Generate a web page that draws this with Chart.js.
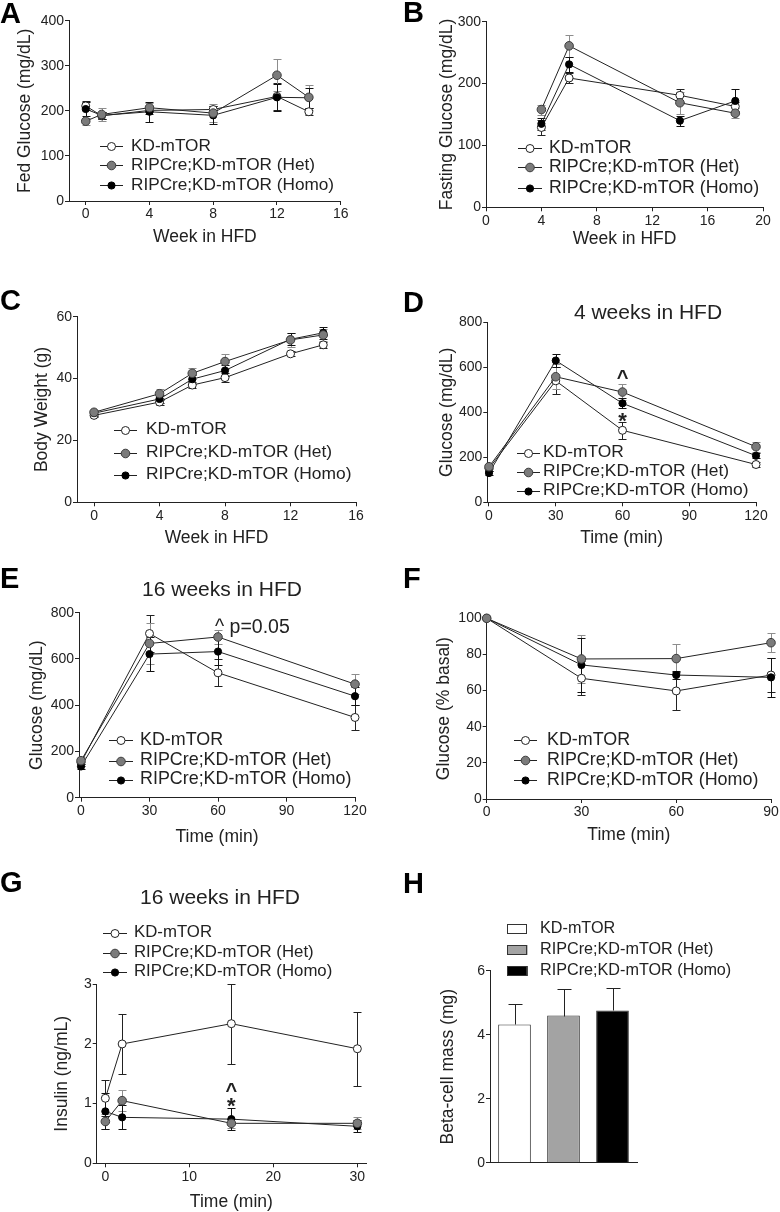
<!DOCTYPE html>
<html>
<head>
<meta charset="utf-8">
<script src="https://cdn.jsdelivr.net/npm/chart.js@4.4.1/dist/chart.umd.min.js"></script>
<style>
  html, body { margin: 0; padding: 0; background: #fff; overflow: hidden; }
  body { width: 780px; height: 1212px; position: relative; }
  canvas { position: absolute; }
</style>
</head>
<body>
<script>
// ---- data ----
const seriesNames = ['KD-mTOR', 'RIPCre;KD-mTOR (Het)', 'RIPCre;KD-mTOR (Homo)'];

// A: fed glucose
const weeksA = [0, 1, 4, 8, 12, 14];
const fedKD = [211, 189, 201, 203, 232, 198];
const fedHet = [177, 192, 207, 195, 279, 230];
const fedHomo = [204, 190, 198, 190, 230, 229];
const fedKDErr = [10, 8, 8, 8, 30, 8];
const fedHetErr = [8, 15, 10, 20, 35, 28];
const fedHomoErr = [15, 8, 22, 20, 30, 22];

// B: fasting glucose
const weeksB = [4, 6, 14, 18];
const fastKD = [129, 209, 181, 163];
const fastHet = [158, 261, 169, 152];
const fastHomo = [135, 231, 140, 172];
const fastKDErr = [12, 8, 10, 8];
const fastHetErr = [8, 18, 18, 8];
const fastHomoErr = [10, 12, 8, 20];

// C: body weight
const weeksC = [0, 4, 6, 8, 12, 14];
const bwKD = [28.1, 32.4, 37.9, 40.3, 48.0, 50.9];
const bwHet = [29.1, 35.1, 41.7, 45.5, 52.5, 54.1];
const bwHomo = [28.8, 33.4, 39.8, 42.6, 52.7, 54.8];
const bwKDErr = [0.6, 0.8, 1.0, 1.5, 0.8, 1.0];
const bwHetErr = [0.8, 1.5, 1.8, 2.3, 2.3, 2.0];
const bwHomoErr = [0.8, 1.2, 1.5, 1.8, 2.0, 2.0];

// D: GTT 4 weeks
const timeGTT = [0, 30, 60, 120];
const gtt4KD = [150, 540, 320, 168];
const gtt4Het = [158, 558, 490, 247];
const gtt4Homo = [130, 630, 440, 207];
const gtt4KDErr = [10, 60, 38, 10];
const gtt4HetErr = [10, 55, 35, 22];
const gtt4HomoErr = [8, 30, 22, 12];
const notesD = [{ x: 60, y: 524, text: '^', bold: true, size: 20 }, { x: 60, y: 332, text: '*', bold: true, size: 22 }];

// E: GTT 16 weeks
const gtt16KD = [152, 710, 540, 347];
const gtt16Het = [160, 667, 695, 491];
const gtt16Homo = [135, 621, 632, 439];
const gtt16KDErr = [15, 78, 58, 55];
const gtt16HetErr = [15, 90, 30, 42];
const gtt16HomoErr = [10, 72, 60, 40];
const notesE = [{ x: 58.7, y: 711, text: '^ p=0.05', align: 'left', size: 19.5 }];

// F: ITT
const timeITT = [0, 30, 60, 90];
const ittKD = [100, 66.8, 59.8, 68.6];
const ittHet = [100, 77.5, 77.7, 86.5];
const ittHomo = [100, 74.2, 68.6, 67.3];
const ittKDErr = [0, 9.3, 10.5, 9.3];
const ittHetErr = [0, 13.3, 8, 5.2];
const ittHomoErr = [0, 15, 2, 10.7];

// G: insulin
const timeIns = [0, 2, 15, 30];
const insKD = [1.09, 2.0, 2.34, 1.92];
const insHet = [0.70, 1.05, 0.67, 0.67];
const insHomo = [0.87, 0.77, 0.74, 0.62];
const insKDErr = [0.3, 0.5, 0.67, 0.62];
const insHetErr = [0.12, 0.18, 0.08, 0.1];
const insHomoErr = [0.3, 0.2, 0.18, 0.1];
const notesG = [{ x: 15, y: 1.11, text: '^', bold: true, size: 20 }, { x: 15, y: 0.843, text: '*', bold: true, size: 22 }];

// H: beta-cell mass
const betaMass = [4.32, 4.6, 4.76];
const betaMassErr = [0.65, 0.82, 0.71];

// tick labels
const ticksWeek16 = [0, 4, 8, 12, 16];
const ticksWeek20 = [0, 4, 8, 12, 16, 20];
const ticksMin120 = [0, 30, 60, 90, 120];
const ticksMin90 = [0, 30, 60, 90];
const ticksMin30 = [0, 10, 20, 30];
const ticksFed = [0, 100, 200, 300, 400];
const ticksFast = [0, 100, 200, 300];
const ticksBW = [0, 20, 40, 60];
const ticksGTT = [0, 200, 400, 600, 800];
const ticksITT = [0, 20, 40, 60, 80, 100];
const ticksIns = [0, 1, 2, 3];
const ticksBeta = [0, 2, 4, 6];

// ---- styles ----
const FONT = '"Liberation Sans", Arial, Helvetica, sans-serif';
const INK = '#222';
const marker = [
  { fill: '#ffffff', line: '#222', r: 4, err: '#222' },
  { fill: '#7b7b7b', line: '#3c3c3c', r: 4.3, err: '#8d8d8d' },
  { fill: '#000000', line: '#000', r: 3.6, err: '#111' }
];
const barFill = ['#ffffff', '#a3a3a3', '#000000'];

const errorBars = {
  id: 'errorBars',
  beforeDatasetsDraw(chart) { if (chart.config.type === 'line') drawErrors(chart, false); },
  afterDatasetsDraw(chart) { if (chart.config.type === 'bar') drawErrors(chart, true); }
};

function drawErrors(chart, upOnly) {
  const ctx = chart.ctx, ys = chart.scales.y;
  chart.data.datasets.forEach((ds, i) => {
    if (!ds.errors) return;
    const meta = chart.getDatasetMeta(i);
    ctx.save();
    ctx.strokeStyle = ds.errorColor;
    ctx.lineWidth = 1;
    meta.data.forEach((el, j) => {
      const e = ds.errors[j];
      if (!e) return;
      const v = typeof ds.data[j] === 'object' ? ds.data[j].y : ds.data[j];
      const top = Math.round(ys.getPixelForValue(v + e)) + 0.5;
      const bot = Math.round(ys.getPixelForValue(upOnly ? v : v - e)) + 0.5;
      const x = Math.round(el.x) + 0.5, cw = ds.capWidth;
      ctx.beginPath();
      ctx.moveTo(x, top); ctx.lineTo(x, bot);
      ctx.moveTo(x - cw, top); ctx.lineTo(x + cw, top);
      if (!upOnly) { ctx.moveTo(x - cw, bot); ctx.lineTo(x + cw, bot); }
      ctx.stroke();
    });
    ctx.restore();
  });
}

function makeChart(p) {
  const [bx, by, bw, bh] = p.box;
  const [l, t, r, b] = p.area;
  const cv = document.createElement('canvas');
  cv.width = bw; cv.height = bh;
  cv.style.left = bx + 'px'; cv.style.top = by + 'px';
  cv.style.width = bw + 'px'; cv.style.height = bh + 'px';
  document.body.appendChild(cv);

  const isBar = !!p.bars;
  const tickFont = { family: FONT, size: 14 };
  const titleSize = 17.5, lh = titleSize * 1.2;
  const titleFont = { family: FONT, size: titleSize };
  const grid = { display: true, drawOnChartArea: false, drawTicks: true, tickLength: 4, color: INK, lineWidth: 1 };
  const border = { display: true, color: INK, width: 1 };

  let datasets;
  if (isBar) {
    datasets = [{
      data: p.bars, errors: p.barErr, errorColor: INK, capWidth: 7,
      backgroundColor: barFill, borderColor: '#333', borderWidth: 1,
      barPercentage: 0.667, categoryPercentage: 1
    }];
  } else {
    datasets = p.series.map((s, i) => ({
      label: seriesNames[i],
      data: s.map((v, j) => ({ x: p.xs[j], y: v })),
      errors: p.errs[i], errorColor: marker[i].err, capWidth: 4,
      borderColor: INK, borderWidth: 1, tension: 0, fill: false,
      pointRadius: marker[i].r, pointBackgroundColor: marker[i].fill,
      pointBorderColor: marker[i].line, pointBorderWidth: 1,
      order: [3, 1, 2][i], clip: false
    }));
  }

  const xScale = isBar ? {
    type: 'category', offset: true,
    grid: { display: false }, border,
    ticks: { display: false },
    afterFit: s => { s.height = by + bh - b; }
  } : {
    type: 'linear', min: p.xRange[0], max: p.xRange[1], grid, border,
    ticks: { font: tickFont, color: INK, padding: 1, maxRotation: 0, autoSkip: false },
    afterBuildTicks: s => { s.ticks = p.xTicks.map(v => ({ value: v })); },
    afterFit: s => { s.height = by + bh - b; },
    title: { display: !!p.xTitle, text: p.xTitle, font: titleFont, color: INK,
      padding: { top: 0, bottom: by + bh - p.xTitleY - lh / 2 } }
  };

  const deco = {
    id: 'deco',
    afterDraw(chart) {
      const ctx = chart.ctx;
      ctx.save();
      ctx.fillStyle = '#000';
      ctx.textAlign = 'left'; ctx.textBaseline = 'alphabetic';
      ctx.font = 'bold 29px ' + FONT;
      ctx.fillText(p.letter, p.letterAt[0] - bx, p.letterAt[1] - by);
      if (p.title) {
        ctx.font = '21px ' + FONT;
        ctx.textAlign = 'center'; ctx.textBaseline = 'middle';
        ctx.fillStyle = INK;
        ctx.fillText(p.title, p.titleAt[0] - bx, p.titleAt[1] - by);
      }
      const lg = p.legend;
      seriesNames.forEach((name, i) => {
        const yy = lg.ys[i] - by;
        if (isBar) {
          ctx.fillStyle = barFill[i];
          ctx.fillRect(lg.x0 - bx, yy - 5, lg.x1 - lg.x0, 10);
          ctx.strokeStyle = '#333'; ctx.lineWidth = 1;
          ctx.strokeRect(Math.round(lg.x0 - bx) + 0.5, Math.round(yy - 5) + 0.5, Math.round(lg.x1 - lg.x0) - 1, 9);
        } else {
          ctx.strokeStyle = INK; ctx.lineWidth = 1;
          ctx.beginPath();
          ctx.moveTo(lg.x0 - bx, Math.round(yy) + 0.5); ctx.lineTo(lg.x1 - bx, Math.round(yy) + 0.5);
          ctx.stroke();
          ctx.beginPath();
          ctx.arc((lg.x0 + lg.x1) / 2 - bx, Math.round(yy) + 0.5, marker[i].r, 0, Math.PI * 2);
          ctx.fillStyle = marker[i].fill; ctx.fill();
          ctx.strokeStyle = marker[i].line; ctx.stroke();
        }
        ctx.font = lg.size + 'px ' + FONT;
        ctx.textAlign = 'left'; ctx.textBaseline = 'middle';
        ctx.fillStyle = INK;
        ctx.fillText(name, lg.tx - bx, yy);
      });
      (p.notes || []).forEach(n => {
        ctx.font = (n.bold ? 'bold ' : '') + n.size + 'px ' + FONT;
        ctx.textAlign = n.align || 'center'; ctx.textBaseline = 'alphabetic';
        ctx.fillStyle = INK;
        ctx.fillText(n.text, chart.scales.x.getPixelForValue(n.x), chart.scales.y.getPixelForValue(n.y));
      });
      ctx.restore();
    }
  };

  new Chart(cv, {
    type: isBar ? 'bar' : 'line',
    data: { labels: isBar ? seriesNames : undefined, datasets },
    options: {
      responsive: false, animation: false, devicePixelRatio: 1,
      layout: { padding: { left: 0, top: t - by, right: bx + bw - r, bottom: 0 } },
      plugins: { legend: { display: false }, tooltip: { enabled: false } },
      scales: {
        x: xScale,
        y: {
          type: 'linear', min: p.yRange[0], max: p.yRange[1], grid, border,
          ticks: { font: tickFont, color: INK, padding: 1 },
          afterBuildTicks: s => { s.ticks = p.yTicks.map(v => ({ value: v })); },
          afterFit: s => { s.width = l - bx; },
          title: { display: true, text: p.yTitle, font: titleFont, color: INK,
            padding: { top: p.yTitleX - bx - lh / 2, bottom: 0 } }
        }
      }
    },
    plugins: [errorBars, deco]
  });
}

// ---- panels ----
makeChart({
  letter: 'A', letterAt: [0, 22.7], box: [0, 0, 390, 262], area: [69, 20.7, 340.7, 201],
  xs: weeksA, series: [fedKD, fedHet, fedHomo], errs: [fedKDErr, fedHetErr, fedHomoErr],
  xRange: [-1.05, 16], xTicks: ticksWeek16, yRange: [0, 400], yTicks: ticksFed,
  yTitle: 'Fed Glucose (mg/dL)', yTitleX: 25.5, xTitle: 'Week in HFD', xTitleY: 237,
  legend: { x0: 100, x1: 123, tx: 131, ys: [146, 165.3, 185.3], size: 17.2 }
});
makeChart({
  letter: 'B', letterAt: [403, 22], box: [390, 0, 390, 262], area: [486, 21.7, 763, 207.3],
  xs: weeksB, series: [fastKD, fastHet, fastHomo], errs: [fastKDErr, fastHetErr, fastHomoErr],
  xRange: [0, 20], xTicks: ticksWeek20, yRange: [0, 300], yTicks: ticksFast,
  yTitle: 'Fasting Glucose (mg/dL)', yTitleX: 447, xTitle: 'Week in HFD', xTitleY: 239,
  legend: { x0: 518, x1: 542, tx: 549, ys: [147.7, 167.3, 188.3], size: 17.8 }
});
makeChart({
  letter: 'C', letterAt: [0, 310], box: [0, 270, 390, 290], area: [77, 316.7, 356, 502.3],
  xs: weeksC, series: [bwKD, bwHet, bwHomo], errs: [bwKDErr, bwHetErr, bwHomoErr],
  xRange: [-1.04, 16], xTicks: ticksWeek16, yRange: [0, 60], yTicks: ticksBW,
  yTitle: 'Body Weight (g)', yTitleX: 42, xTitle: 'Week in HFD', xTitleY: 538.3,
  legend: { x0: 114, x1: 137, tx: 146, ys: [429.5, 452.5, 474.5], size: 17.4 }
});
makeChart({
  letter: 'D', letterAt: [403, 312], box: [390, 270, 390, 290], area: [487.3, 322.3, 756, 502.3],
  xs: timeGTT, series: [gtt4KD, gtt4Het, gtt4Homo], errs: [gtt4KDErr, gtt4HetErr, gtt4HomoErr],
  xRange: [-0.76, 120], xTicks: ticksMin120, yRange: [0, 800], yTicks: ticksGTT,
  yTitle: 'Glucose (mg/dL)', yTitleX: 447, xTitle: 'Time (min)', xTitleY: 538.3,
  title: '4 weeks in HFD', titleAt: [648, 313], notes: notesD,
  legend: { x0: 517, x1: 540, tx: 543, ys: [452.7, 471.7, 490.5], size: 17.4 }
});
makeChart({
  letter: 'E', letterAt: [0, 588], box: [0, 560, 390, 300], area: [79, 612.7, 355, 797.7],
  xs: timeGTT, series: [gtt16KD, gtt16Het, gtt16Homo], errs: [gtt16KDErr, gtt16HetErr, gtt16HomoErr],
  xRange: [-0.88, 120], xTicks: ticksMin120, yRange: [0, 800], yTicks: ticksGTT,
  yTitle: 'Glucose (mg/dL)', yTitleX: 37, xTitle: 'Time (min)', xTitleY: 837.3,
  title: '16 weeks in HFD', titleAt: [222, 590], notes: notesE,
  legend: { x0: 109, x1: 133, tx: 140, ys: [740, 760.5, 779.5], size: 17.9 }
});
makeChart({
  letter: 'F', letterAt: [403, 588], box: [390, 560, 400, 300], area: [486.7, 618.3, 771, 799],
  xs: timeITT, series: [ittKD, ittHet, ittHomo], errs: [ittKDErr, ittHetErr, ittHomoErr],
  xRange: [0, 90], xTicks: ticksMin90, yRange: [0, 100], yTicks: ticksITT,
  yTitle: 'Glucose (% basal)', yTitleX: 444.5, xTitle: 'Time (min)', xTitleY: 835,
  legend: { x0: 514, x1: 537, tx: 547, ys: [740, 760, 780], size: 17.9 }
});
makeChart({
  letter: 'G', letterAt: [0, 892], box: [0, 862, 390, 350], area: [96.7, 984.3, 366, 1163.3],
  xs: timeIns, series: [insKD, insHet, insHomo], errs: [insKDErr, insHetErr, insHomoErr],
  xRange: [-1.03, 31.03], xTicks: ticksMin30, yRange: [0, 3], yTicks: ticksIns,
  yTitle: 'Insulin (ng/mL)', yTitleX: 62.5, xTitle: 'Time (min)', xTitleY: 1201.7,
  title: '16 weeks in HFD', titleAt: [220, 898], notes: notesG,
  legend: { x0: 103, x1: 127, tx: 134, ys: [932.7, 952.5, 971.7], size: 16.8 }
});
makeChart({
  letter: 'H', letterAt: [403, 893], box: [390, 862, 390, 350], area: [490, 970.7, 637, 1162.7],
  bars: betaMass, barErr: betaMassErr, yRange: [0, 6], yTicks: ticksBeta,
  yTitle: 'Beta-cell mass (mg)', yTitleX: 448.5,
  legend: { x0: 507.3, x1: 527.7, tx: 540, ys: [929, 950, 971], size: 16.2 }
});
</script>
</body>
</html>
